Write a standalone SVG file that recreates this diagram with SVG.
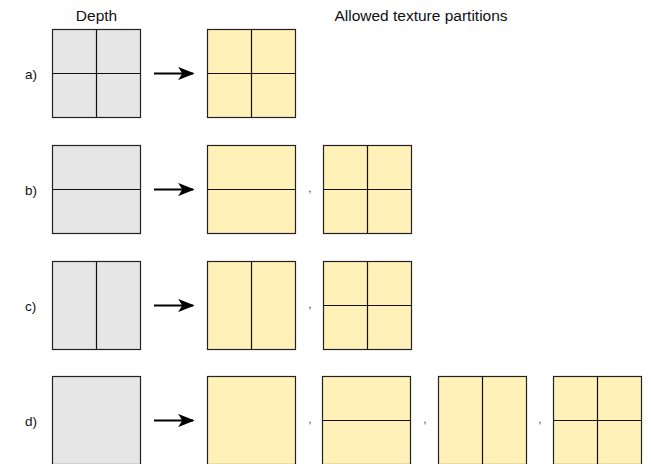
<svg xmlns="http://www.w3.org/2000/svg" width="651" height="464" viewBox="0 0 651 464">
  <style>
    .depth { fill: #e6e6e6; stroke: #222; stroke-width: 1.2; }
    .tex { fill: #fff1b8; stroke: #222; stroke-width: 1.2; }
    .split { stroke: #111; stroke-width: 1.2; fill: none; }
    .title { font-family: "Liberation Sans", Arial, sans-serif; font-size: 15.5px; fill: #111; text-anchor: middle; }
    .row { font-family: "Liberation Sans", Arial, sans-serif; font-size: 13.5px; fill: #111; }
    .sep { font-family: "Liberation Sans", Arial, sans-serif; font-size: 10px; fill: #111; text-anchor: middle; }
    .arrow { stroke: #000; stroke-width: 2.2; fill: none; }
  </style>
  <defs>
    <marker id="head" viewBox="0 0 10 8" refX="9" refY="4" markerWidth="7.5" markerHeight="6" markerUnits="strokeWidth" orient="auto">
      <path d="M0,0 L10,4 L0,8 L2.5,4 Z" fill="#000"/>
    </marker>
  </defs>

  <rect width="651" height="464" fill="#fff"/>

  <!-- column headings -->
  <text class="title" x="96.5" y="21">Depth</text>
  <text class="title" x="421" y="21">Allowed texture partitions</text>

  <!-- row labels -->
  <text class="row" x="25" y="78.5">a)</text>
  <text class="row" x="25" y="194.5">b)</text>
  <text class="row" x="25" y="310.5">c)</text>
  <text class="row" x="25" y="425.5">d)</text>

  <!-- row a -->
  <g id="depth-a">
    <rect class="depth" x="52.5" y="29.5" width="88" height="88"/>
    <path class="split" d="M96.5,29.5 V117.5 M52.5,73.5 H140.5"/>
  </g>
  <g id="tex-a1">
    <rect class="tex" x="207.5" y="29.5" width="88" height="88"/>
    <path class="split" d="M251.5,29.5 V117.5 M207.5,73.5 H295.5"/>
  </g>

  <!-- row b -->
  <g id="depth-b">
    <rect class="depth" x="52.5" y="145.5" width="88" height="88"/>
    <path class="split" d="M52.5,189.5 H140.5"/>
  </g>
  <g id="tex-b1">
    <rect class="tex" x="207.5" y="145.5" width="88" height="88"/>
    <path class="split" d="M207.5,189.5 H295.5"/>
  </g>
  <g id="tex-b2">
    <rect class="tex" x="323.5" y="145.5" width="88" height="88"/>
    <path class="split" d="M367.5,145.5 V233.5 M323.5,189.5 H411.5"/>
  </g>

  <!-- row c -->
  <g id="depth-c">
    <rect class="depth" x="52.5" y="261.5" width="88" height="88"/>
    <path class="split" d="M96.5,261.5 V349.5"/>
  </g>
  <g id="tex-c1">
    <rect class="tex" x="207.5" y="261.5" width="88" height="88"/>
    <path class="split" d="M251.5,261.5 V349.5"/>
  </g>
  <g id="tex-c2">
    <rect class="tex" x="323.5" y="261.5" width="88" height="88"/>
    <path class="split" d="M367.5,261.5 V349.5 M323.5,305.5 H411.5"/>
  </g>

  <!-- row d -->
  <g id="depth-d">
    <rect class="depth" x="52.5" y="376.5" width="88" height="88"/>
  </g>
  <g id="tex-d1">
    <rect class="tex" x="207.5" y="376.5" width="88" height="88"/>
  </g>
  <g id="tex-d2">
    <rect class="tex" x="322.5" y="376.5" width="88" height="88"/>
    <path class="split" d="M322.5,420.5 H410.5"/>
  </g>
  <g id="tex-d3">
    <rect class="tex" x="438.5" y="376.5" width="88" height="88"/>
    <path class="split" d="M482.5,376.5 V464.5"/>
  </g>
  <g id="tex-d4">
    <rect class="tex" x="553.5" y="376.5" width="88" height="88"/>
    <path class="split" d="M597.5,376.5 V464.5 M553.5,420.5 H641.5"/>
  </g>

  <!-- separators between alternatives -->
  <text class="sep" x="310" y="192">,</text>
  <text class="sep" x="310" y="308">,</text>
  <text class="sep" x="310" y="423">,</text>
  <text class="sep" x="425" y="423">,</text>
  <text class="sep" x="540" y="423">,</text>

  <!-- connectors -->
  <g id="connectors">
    <line class="arrow" x1="154" y1="73.5" x2="193" y2="73.5" marker-end="url(#head)"/>
    <line class="arrow" x1="154" y1="189.5" x2="193" y2="189.5" marker-end="url(#head)"/>
    <line class="arrow" x1="154" y1="305.5" x2="193" y2="305.5" marker-end="url(#head)"/>
    <line class="arrow" x1="154" y1="420.5" x2="193" y2="420.5" marker-end="url(#head)"/>
  </g>
</svg>
